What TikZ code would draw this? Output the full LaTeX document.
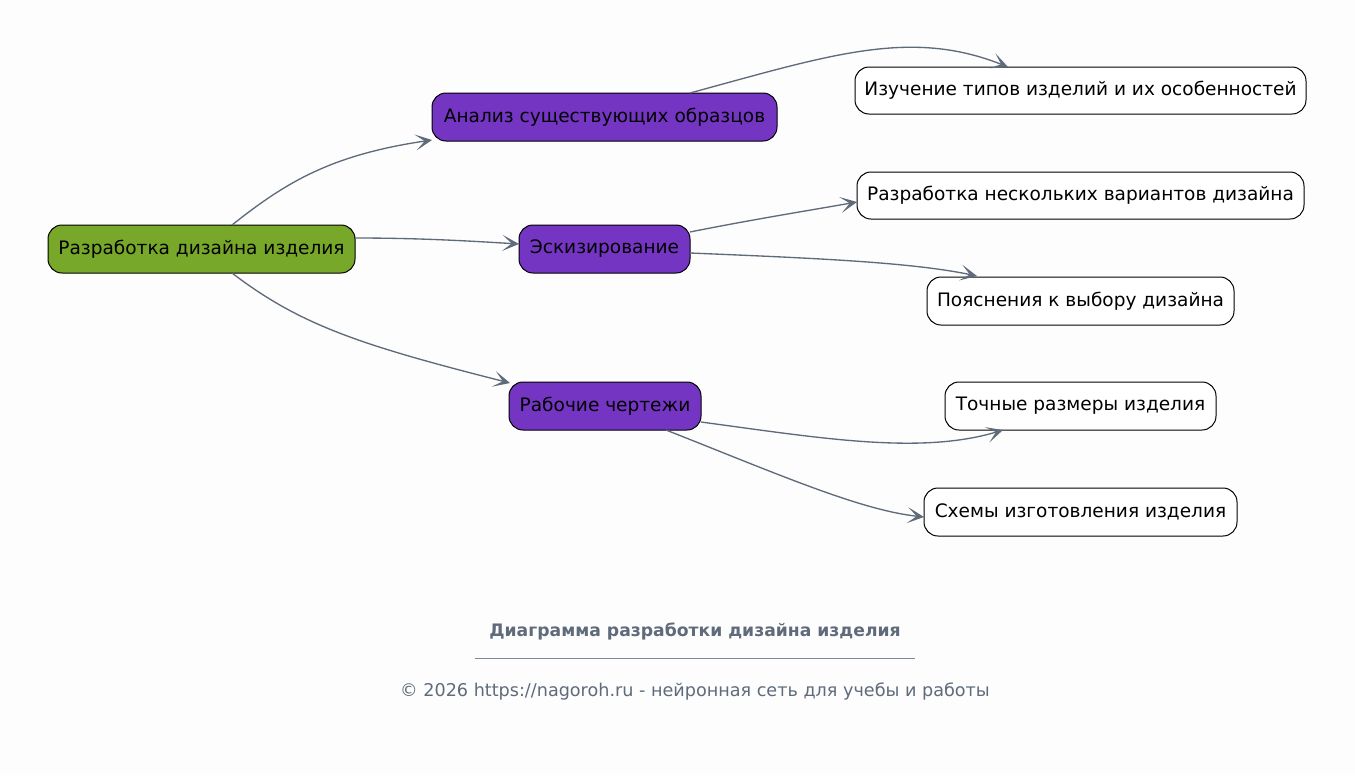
\documentclass[tikz,border=0pt]{standalone}
\usepackage{fontspec}
\setmainfont{DejaVu Sans}
\usetikzlibrary{arrows.meta}
\definecolor{bg}{HTML}{FDFDFD}
\definecolor{rootc}{HTML}{78A82A}
\definecolor{midc}{HTML}{7535C3}
\definecolor{edgec}{HTML}{5F6B7A}
\tikzset{
  base/.style={draw=black, line width=0.75pt, rounded corners=10.5pt, inner sep=0pt,
    minimum height=36pt, font=\fontsize{13.9}{16}\selectfont, text=black},
  rootbox/.style={base, fill=rootc},
  midbox/.style={base, fill=midc},
  leafbox/.style={base, fill=white},
  conn/.style={draw=edgec, line width=1pt, -{Stealth[length=12.5pt, width=12pt, inset=7pt]}},
}
\begin{document}
\begin{tikzpicture}[x=0.75pt, y=-0.75pt]
\fill[bg] (0,0) rectangle (1355,775);
\useasboundingbox (0,0) rectangle (1355,775);

\node[rootbox, minimum width=230.25pt] (root) at (201.5,249) {Разработка дизайна изделия};
\node[midbox, minimum width=258.75pt] (a) at (604.5,117) {Анализ существующих образцов};
\node[midbox, minimum width=128.25pt] (b) at (604.5,249) {Эскизирование};
\node[midbox, minimum width=144pt] (c) at (605,406) {Рабочие чертежи};

\node[leafbox, minimum width=338.25pt, minimum height=35.25pt] (l1) at (1080.5,90.5) {Изучение типов изделий и их особенностей};
\node[leafbox, minimum width=335.25pt, minimum height=35.25pt] (l2) at (1080.5,195.5) {Разработка нескольких вариантов дизайна};
\node[leafbox, minimum width=230.25pt] (l3) at (1080.5,301) {Пояснения к выбору дизайна};
\node[leafbox, minimum width=203.25pt] (l4) at (1080.5,406) {Точные размеры изделия};
\node[leafbox, minimum width=234.75pt] (l5) at (1080.5,512) {Схемы изготовления изделия};

\coordinate (r1) at (232,225);
\coordinate (r2) at (355,238);
\coordinate (r3) at (232,273);
\coordinate (a1) at (432,140);
\coordinate (b1) at (519,244);
\coordinate (c1) at (510,383);
\coordinate (a2) at (690,93);
\coordinate (t1) at (1008,67);
\coordinate (b2) at (690,232);
\coordinate (t2) at (857,202);
\coordinate (b3) at (690,253);
\coordinate (t3) at (977,276);
\coordinate (c2) at (701,422);
\coordinate (t4) at (1003,430);
\coordinate (c3) at (666,430);
\coordinate (t5) at (924,517);

\draw[conn] (r1) .. controls (285,183) and (330,155) .. (a1);
\draw[conn] (r2) .. controls (420,238) and (470,241) .. (b1);
\draw[conn] (r3) .. controls (300,325) and (360,345) .. (c1);
\draw[conn] (a2) .. controls (830,55) and (910,28) .. (t1);
\draw[conn] (b2) .. controls (750,220) and (800,212) .. (t2);
\draw[conn] (b3) .. controls (810,258) and (910,262) .. (t3);
\draw[conn] (c2) .. controls (820,438) and (920,455) .. (t4);
\draw[conn] (c3) .. controls (780,475) and (860,510) .. (t5);

\node[text=edgec, font=\fontsize{12.9}{15}\selectfont\bfseries] (title) at (695,631) {Диаграмма разработки дизайна изделия};
\coordinate (ls) at (475,658);
\coordinate (le) at (915,658);
\draw[edgec!80, line width=0.5pt] (ls) -- (le);
\node[text=edgec, font=\fontsize{13.2}{15}\selectfont] (foot) at (695,691) {© 2026 https://nagoroh.ru - нейронная сеть для учебы и работы};
\end{tikzpicture}
\end{document}
